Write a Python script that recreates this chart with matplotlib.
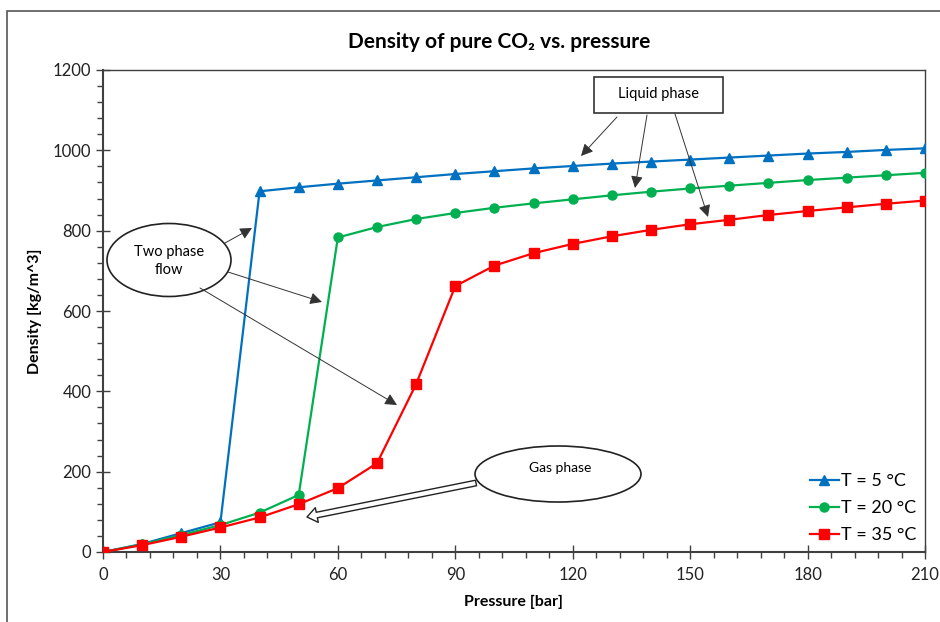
import matplotlib
matplotlib.use("Agg")
import matplotlib.pyplot as plt
from matplotlib.patches import Ellipse, Rectangle, FancyArrowPatch
from matplotlib.ticker import MultipleLocator

plt.rcParams['font.family'] = ['Lato', 'DejaVu Sans']

pressure = [0, 10, 20, 30, 40, 50, 60, 70, 80, 90, 100, 110, 120, 130, 140,
            150, 160, 170, 180, 190, 200, 210]
rho_5 = [0, 20, 47, 74, 898, 908, 917, 925, 933, 941, 948, 955, 961, 967, 972,
         977, 982, 987, 992, 996, 1001, 1005]
rho_20 = [0, 19, 42, 67, 98, 142, 783, 809, 829, 844, 857, 868, 878, 888, 897,
          905, 912, 919, 926, 932, 938, 944]
rho_35 = [0, 17, 38, 61, 86, 119, 159, 221, 418, 662, 713, 744, 767, 786, 802,
          816, 827, 839, 849, 858, 867, 875]
labels = ['T = 5 °C', 'T = 20 °C', 'T = 35 °C']
x_ticks = [0, 30, 60, 90, 120, 150, 180, 210]
y_ticks = [0, 200, 400, 600, 800, 1000, 1200]

W, H = 940, 622
fig = plt.figure(figsize=(W / 100, H / 100), dpi=100)
ax = fig.add_axes([103 / W, 1 - 552 / H, (925 - 103) / W, (552 - 70) / H])

def fp(x, y):
    return (x / W, 1 - y / H)

ax.plot(pressure, rho_5, color='#0070C0', marker='^', ms=6.5, lw=1.6, label=labels[0], zorder=3)
ax.plot(pressure, rho_20, color='#00B050', marker='o', ms=6.5, lw=1.6, label=labels[1], zorder=3)
ax.plot(pressure, rho_35, color='#FF0000', marker='s', ms=6.5, lw=1.6, label=labels[2], zorder=3)

ax.set_xlim(0, 210)
ax.set_ylim(0, 1200)
ax.set_xticks(x_ticks)
ax.set_yticks(y_ticks)
ax.xaxis.set_minor_locator(MultipleLocator(6))
ax.yaxis.set_minor_locator(MultipleLocator(40))
ax.tick_params(which='major', direction='inout', length=10, width=1, color='#404040',
               labelsize=12, labelcolor='#222222')
ax.tick_params(which='minor', direction='out', length=4, width=1, color='#404040')
ax.tick_params(axis='x', pad=6)
for s in ax.spines.values():
    s.set_color('#404040')
    s.set_linewidth(1.0)
ax.spines['left'].set_linewidth(1.5)
ax.spines['bottom'].set_linewidth(1.5)

ax.set_xlabel('Pressure [bar]', fontsize=11.5, fontweight='bold', labelpad=8)
ax.set_ylabel('Density [kg/m^3]', fontsize=11.5, fontweight='bold', labelpad=8)
fig.text(*fp(499, 42), 'Density of pure CO₂ vs. pressure', ha='center', va='center',
         fontsize=15, fontweight='bold')

leg = ax.legend(loc='lower right', frameon=False, fontsize=13, handlelength=1.6,
                handletextpad=0.1, labelspacing=0.6, borderaxespad=0.1,
                bbox_to_anchor=(1.0, 0.0))

# outer chart frame
fig.patches.append(Rectangle(fp(7, 640), 1.2, (640 - 11) / H, transform=fig.transFigure,
                             fill=False, edgecolor='#555555', lw=1.2))

# Liquid phase box
fig.patches.append(Rectangle(fp(594, 113), (723 - 594) / W, (113 - 77) / H,
                             transform=fig.transFigure, facecolor='white',
                             edgecolor='#333333', lw=1.2, zorder=5))
fig.text(*fp(658, 94), 'Liquid phase', ha='center', va='center', fontsize=10.5, zorder=6)

def arrow(p0, p1):
    fig.add_artist(FancyArrowPatch(fp(*p0), fp(*p1), transform=fig.transFigure,
                                   arrowstyle='-|>,head_length=0.6,head_width=0.3',
                                   mutation_scale=12, color='#333333', lw=0.7,
                                   shrinkA=0, shrinkB=0, zorder=6))

arrow((617, 117), (581, 156))
arrow((647, 115), (635, 188))
arrow((675, 114), (708, 217))

# Two phase flow ellipse
fig.patches.append(Ellipse(fp(169, 260), 124 / W, 73 / H, transform=fig.transFigure,
                           facecolor='white', edgecolor='#222222', lw=1.2, zorder=5))
fig.text(*fp(169, 261), 'Two phase\nflow', ha='center', va='center', fontsize=10.5,
         linespacing=1.45, zorder=6)
arrow((225, 243), (252, 228))
arrow((228, 272), (322, 302))
arrow((200, 288), (397, 405))

# Gas phase ellipse
fig.patches.append(Ellipse(fp(558, 474), 166 / W, 56 / H, transform=fig.transFigure,
                           facecolor='white', edgecolor='#222222', lw=1.2, zorder=5))
fig.text(*fp(560, 468), 'Gas phase', ha='center', va='center', fontsize=10, zorder=6)
fig.add_artist(FancyArrowPatch(fp(476, 483), fp(307, 517), transform=fig.transFigure,
                               arrowstyle='simple,head_length=0.8,head_width=1.2,tail_width=0.45',
                               mutation_scale=9, facecolor='white', edgecolor='#222222',
                               lw=1.0, shrinkA=0, shrinkB=0, zorder=6))

fig.savefig('out.png', dpi=100)
